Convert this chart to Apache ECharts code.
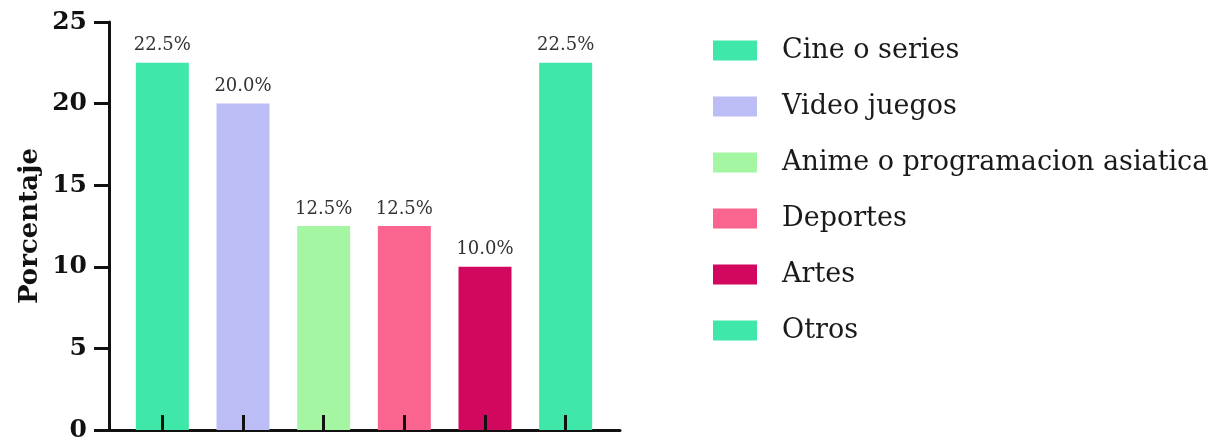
<!DOCTYPE html>
<html><head><meta charset="utf-8">
<script src="https://cdn.jsdelivr.net/npm/echarts@6/dist/echarts.min.js"></script>
<style>html,body{margin:0;padding:0;background:#fff}#c{width:1217px;height:438px}</style>
</head><body><div id="c"></div>
<script>
const categories = ['Cine o series', 'Video juegos', 'Anime o programacion asiatica', 'Deportes', 'Artes', 'Otros'];
const values = [22.5, 20.0, 12.5, 12.5, 10.0, 22.5];
const colors = ['#3fe8a9', '#bdbdf6', '#a4f6a2', '#f9658e', '#d1085d', '#3fe8a9'];
const yTicks = [0, 5, 10, 15, 20, 25];

const FONT = 'DejaVu Serif';
const chart = echarts.init(document.getElementById('c'), null, {renderer: 'canvas'});

const series = categories.map((name, i) => ({
  name: name,
  type: 'bar',
  xAxisIndex: 1,
  yAxisIndex: 1,
  stack: 'all',
  barWidth: 53,
  itemStyle: {color: colors[i]},
  label: {
    show: true, position: 'top', distance: 8,
    fontFamily: FONT, fontSize: 18, color: '#333',
    formatter: p => p.value == null ? '' : p.value.toFixed(1) + '%'
  },
  data: categories.map((c, j) => j === i ? values[i] : null)
}));

chart.setOption({
  animation: false,
  backgroundColor: '#fff',
  grid: [
    {left: 109, top: 22, bottom: 8, width: 511, outerBoundsMode: 'none', containLabel: false},
    {left: 122, top: 22, bottom: 8, width: 484, outerBoundsMode: 'none', containLabel: false}
  ],
  legend: {
    orient: 'vertical', left: 708, top: 32,
    itemWidth: 44, itemHeight: 20, itemGap: 29,
    icon: 'rect',
    data: categories,
    textStyle: {fontFamily: FONT, fontSize: 27, color: '#1a1a1a', padding: [0, 0, 0, 20]}
  },
  xAxis: [
    {gridIndex: 0, type: 'value', min: 0, max: 1,
     axisLine: {show: true, lineStyle: {color: '#111', width: 3}},
     axisTick: {show: false}, axisLabel: {show: false}, splitLine: {show: false}},
    {gridIndex: 1, type: 'category', data: categories, z: 10,
     axisLine: {show: false},
     axisTick: {show: true, interval: 0, inside: true, alignWithLabel: true, length: 15, lineStyle: {color: '#111', width: 3}},
     axisLabel: {show: false}, splitLine: {show: false}}
  ],
  yAxis: [
    {gridIndex: 0, type: 'value', min: yTicks[0], max: yTicks[yTicks.length - 1], interval: 5,
     name: 'Porcentaje', nameLocation: 'middle', nameGap: 66, nameRotate: 90,
     nameTextStyle: {fontFamily: FONT, fontWeight: 'bold', fontSize: 26, color: '#111'},
     axisLine: {show: true, lineStyle: {color: '#111', width: 3}},
     axisTick: {show: true, length: 15, lineStyle: {color: '#111', width: 3}},
     axisLabel: {fontFamily: FONT, fontWeight: 'bold', fontSize: 25, color: '#111', margin: 22},
     splitLine: {show: false}},
    {gridIndex: 1, type: 'value', min: 0, max: 25, show: false, splitLine: {show: false}}
  ],
  series: series
});
</script></body></html>
